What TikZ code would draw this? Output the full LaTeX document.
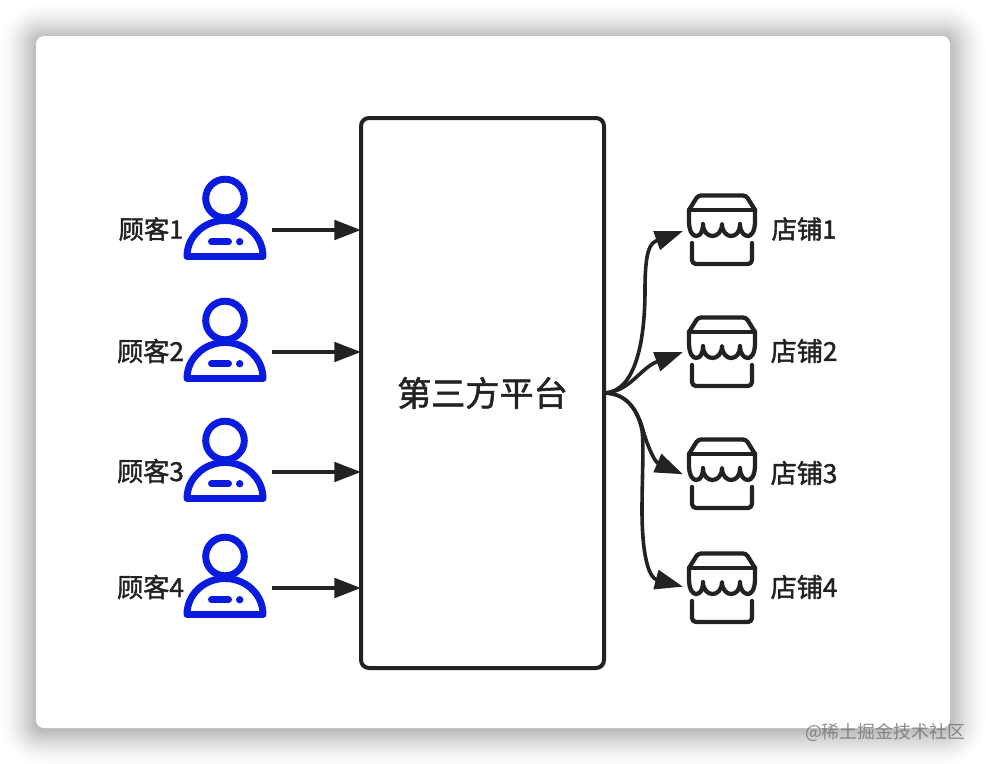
\documentclass[tikz,border=0pt]{standalone}
\usepackage{fontspec}
\setmainfont{Noto Sans CJK SC}
\newfontfamily\heavyfont[FakeBold=1.6]{Noto Sans CJK SC}
\usetikzlibrary{arrows.meta}
\definecolor{ink}{HTML}{222222}
\definecolor{royal}{HTML}{0A1BE0}
\tikzset{
  x=0.75pt, y=-0.75pt,
  flowline/.style={draw=ink, line width=3pt, -{Triangle[length=20pt,width=14.5pt]}},
  branch/.style={draw=ink, line width=2.7pt, -{Triangle[length=21pt,width=14.5pt]}},
  caption/.style={text=ink, inner sep=0pt},
  person/.pic={
    \draw[royal, line width=5.2pt] (0,0) circle[radius=19.3];
    \draw[royal, line width=5.2pt, line join=round, fill=white]
      (-38,58) .. controls (-38,38) and (-21,22) .. (0,22)
      .. controls (21,22) and (38,38) .. (38,58) -- cycle;
    \draw[royal, line width=5.2pt, line cap=round] (-13.5,43.2) -- (3.5,43.2);
    \fill[royal] (14.7,43.2) circle[radius=3.7];
  },
  store/.pic={
    \begin{scope}[draw=ink, line width=3.2pt, line cap=round, line join=round]
      \draw[rounded corners=2.2pt] (-33,15) -- (-24,0.5) -- (24,0.5) -- (33,15);
      \draw (-33,15) -- (33,15);
      \draw (-33,15) -- (-33,26)
        .. controls (-33,37) and (-29,41) .. (-26,41)
        .. controls (-22,41) and (-19,37) .. (-19,29)
        .. controls (-19,37) and (-14,41) .. (-9.5,41)
        .. controls (-5,41) and (0,37) .. (0,29)
        .. controls (0,37) and (5,41) .. (9,41)
        .. controls (14,41) and (18,37) .. (18,29)
        .. controls (18,37) and (22,41) .. (26,41)
        .. controls (29,41) and (33,37) .. (33,26) -- (33,15);
      \draw[rounded corners=3pt] (-30,48) -- (-30,69) -- (30,69) -- (30,48);
    \end{scope}
  }
}
\begin{document}
\begin{tikzpicture}
\useasboundingbox (0,0) rectangle (986,764);
\fill[white] (0,0) rectangle (986,764);

% soft drop shadow around the card, built from nested opaque layers
\foreach \g in {36,35,...,1}{
  \pgfmathsetmacro{\shade}{27*(1-\g/37)^1.6}
  \fill[black!\shade!white, rounded corners=\g*0.75pt+5pt]
    ({36-\g},{38-\g}) rectangle ({950+\g},{730+\g});
}
\fill[white, rounded corners=6pt] (36,36) rectangle (950,728);

% central platform
\node[draw=ink, line width=3pt, rounded corners=6pt, outer sep=0pt, minimum width=182.25pt, minimum height=412.5pt,
      inner sep=0pt, font=\heavyfont\fontsize{25.6}{25.6}\selectfont, text=ink] (platform) at (482.5,393) {第三方平台};

% customers
\foreach \hy in {198.5,320.5,440.5,556.5}{
  \pic at (225,\hy) {person};
}
\node[caption, font=\heavyfont\fontsize{19}{19}\selectfont] (c1) at (151,229) {顾客1};
\node[caption, font=\heavyfont\fontsize{19.6}{19.6}\selectfont] (c2) at (150.5,351) {顾客2};
\node[caption, font=\heavyfont\fontsize{19.6}{19.6}\selectfont] (c3) at (150.5,471) {顾客3};
\node[caption, font=\heavyfont\fontsize{19.6}{19.6}\selectfont] (c4) at (150.5,587) {顾客4};

\coordinate (u1) at (272,230);
\coordinate (u2) at (272,352);
\coordinate (u3) at (272,472);
\coordinate (u4) at (272,588);
\foreach \n in {1,2,3,4}{
  \draw[flowline] (u\n) -- (u\n -| platform.west);
}

% stores
\foreach \sy in {195,317,439,553}{
  \pic at (722,\sy) {store};
}
\node[caption, font=\heavyfont\fontsize{19}{19}\selectfont] (s1) at (804,229) {店铺1};
\node[caption, font=\heavyfont\fontsize{19.6}{19.6}\selectfont] (s2) at (804,351) {店铺2};
\node[caption, font=\heavyfont\fontsize{19.6}{19.6}\selectfont] (s3) at (804,473) {店铺3};
\node[caption, font=\heavyfont\fontsize{19.6}{19.6}\selectfont] (s4) at (804,587) {店铺4};

\coordinate (d1) at (683,231);
\coordinate (d2) at (683,352);
\coordinate (d3) at (683,474.3);
\coordinate (d4) at (683,586.7);

% branches leaving the platform
\draw[branch] (platform.east) .. controls (636,392) and (645,340) .. (645,290)
  .. controls (645,250) and (650,243) .. (d1);
\draw[branch] (platform.east) .. controls (630,392) and (640,368) .. (d2);
\draw[branch] (platform.east) .. controls (628,393) and (638,412) .. (643,430)
  .. controls (648,448) and (655,462) .. (d3);
\draw[branch] (platform.east) .. controls (628,393) and (638,412) .. (642,430)
  .. controls (644,445) and (642,480) .. (642,510)
  .. controls (642,560) and (650,578) .. (d4);

% site mark in the corner
\node[text=black!55, opacity=0.8, font=\fontsize{13.4}{13.4}\selectfont, inner sep=0pt] (mark) at (885,732) {@稀土掘金技术社区};
\end{tikzpicture}
\end{document}
